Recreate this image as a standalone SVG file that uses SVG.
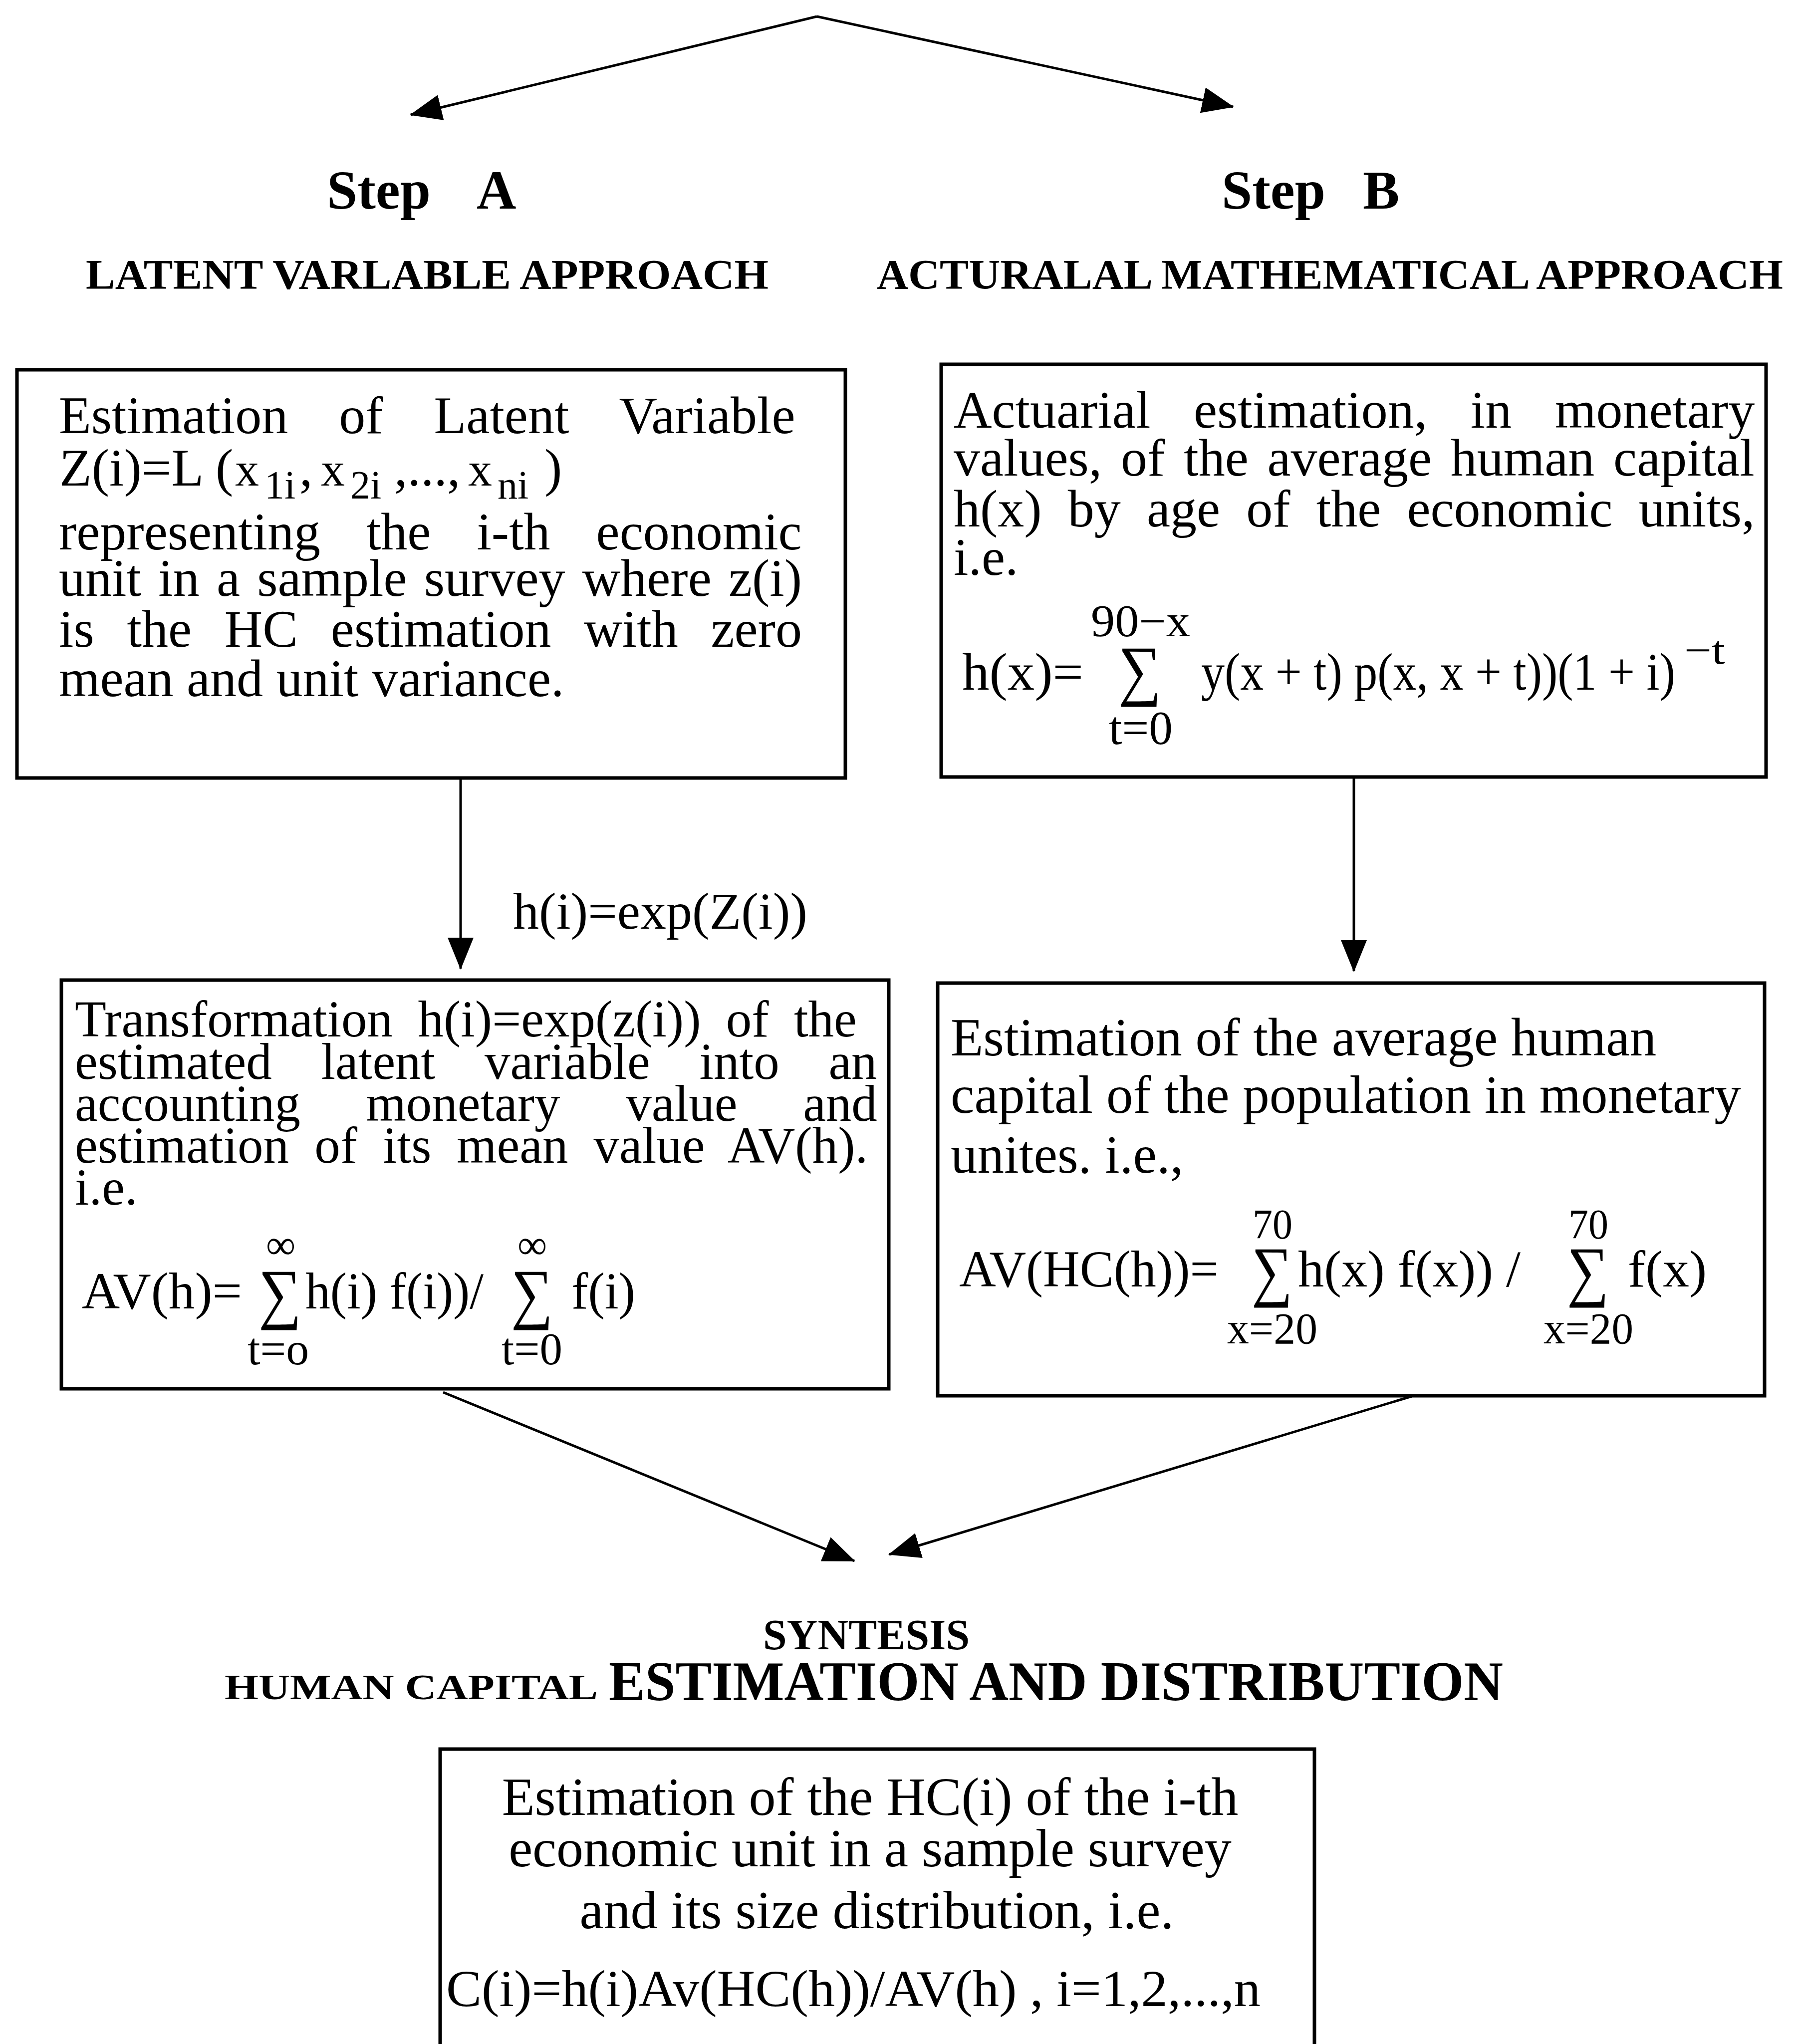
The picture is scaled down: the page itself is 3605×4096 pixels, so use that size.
<svg xmlns="http://www.w3.org/2000/svg" width="3605" height="4096" viewBox="0 0 3605 4096">
<style>
.t{font-family:"Liberation Serif","Times New Roman",serif;fill:#000}
.hb{font-weight:bold}
.box{fill:none;stroke:#000;stroke-width:7}
.cn{fill:none;stroke:#000;stroke-width:5}
.sg{font-size:135px}
</style>
<defs>
<marker id="ah" markerUnits="userSpaceOnUse" viewBox="0 0 64 52" markerWidth="64" markerHeight="52" refX="62" refY="26" orient="auto">
<path d="M0,0 L64,26 L0,52 Z" fill="#000"/>
</marker>
</defs>
<rect width="3605" height="4096" fill="#fff"/>

<g id="connectors">
<line class="cn" x1="1637" y1="33" x2="823" y2="230" stroke-width="7" marker-end="url(#ah)"/>
<line class="cn" x1="1637" y1="33" x2="2471" y2="214" stroke-width="7" marker-end="url(#ah)"/>
<line class="cn" x1="923" y1="1559" x2="923" y2="1941" marker-end="url(#ah)"/>
<line class="cn" x1="2713" y1="1557" x2="2713" y2="1946" marker-end="url(#ah)"/>
<line class="cn" x1="888" y1="2790" x2="1712" y2="3128" marker-end="url(#ah)"/>
<line class="cn" x1="2829" y1="2798" x2="1782" y2="3115" marker-end="url(#ah)"/>
<text class="t" x="1028" y="1861" font-size="104" textLength="590" lengthAdjust="spacingAndGlyphs">h(i)=exp(Z(i))</text>
</g>

<g id="headers">
<text class="t hb" x="655" y="418" font-size="110">Step</text>
<text class="t hb" x="955" y="418" font-size="110">A</text>
<text class="t hb" x="2448" y="418" font-size="110">Step</text>
<text class="t hb" x="2731" y="418" font-size="110">B</text>
<text class="t hb" x="172" y="579" font-size="84" textLength="1368" lengthAdjust="spacingAndGlyphs">LATENT VARLABLE APPROACH</text>
<text class="t hb" x="1757" y="579" font-size="84" textLength="1816" lengthAdjust="spacingAndGlyphs">ACTURALAL MATHEMATICAL APPROACH</text>
<text class="t hb" x="1529" y="3305" font-size="86" textLength="414" lengthAdjust="spacingAndGlyphs">SYNTESIS</text>
<text class="t hb" x="450" y="3405" font-size="72" textLength="748" lengthAdjust="spacingAndGlyphs">HUMAN CAPITAL</text>
<text class="t hb" x="1220" y="3407" font-size="112" textLength="1792" lengthAdjust="spacingAndGlyphs">ESTIMATION AND DISTRIBUTION</text>
</g>

<g id="box-latent">
<rect class="box" x="34" y="741" width="1660" height="818"/>
<text class="t" font-size="106">
<tspan x="118" y="868" word-spacing="75.5">Estimation of Latent Variable</tspan>
<tspan x="118" y="1101" word-spacing="65.5">representing the i-th economic</tspan>
<tspan x="118" y="1194" word-spacing="7.8">unit in a sample survey where z(i)</tspan>
<tspan x="118" y="1296" word-spacing="39.3">is the HC estimation with zero</tspan>
<tspan x="118" y="1395">mean and unit variance.</tspan>
</text>
<text class="t" font-size="106"><tspan x="119" y="973">Z(i)=L</tspan><tspan x="432" y="973">(</tspan><tspan x="471" y="973" font-size="96">x</tspan><tspan x="530" y="999" font-size="80">1i</tspan><tspan x="600" y="973">,</tspan><tspan x="643" y="973" font-size="96">x</tspan><tspan x="702" y="999" font-size="80">2i</tspan><tspan x="790" y="973">,...,</tspan><tspan x="938" y="973" font-size="96">x</tspan><tspan x="997" y="999" font-size="80">ni</tspan><tspan x="1091" y="973">)</tspan></text>
</g>

<g id="box-actuarial">
<rect class="box" x="1886" y="730" width="1653" height="827"/>
<text class="t" font-size="106">
<tspan x="1911" y="857" word-spacing="60.2">Actuarial estimation, in monetary</tspan>
<tspan x="1911" y="953" word-spacing="11.3">values, of the average human capital</tspan>
<tspan x="1911" y="1055" word-spacing="25.7">h(x) by age of the economic units,</tspan>
<tspan x="1911" y="1152">i.e.</tspan>
</text>
<text class="t" x="2186" y="1275" font-size="90" textLength="199" lengthAdjust="spacingAndGlyphs">90−x</text>
<text class="t" x="1928" y="1382" font-size="106" textLength="243" lengthAdjust="spacingAndGlyphs">h(x)=</text>
<text class="t sg" x="2241" y="1388" textLength="86" lengthAdjust="spacingAndGlyphs">∑</text>
<text class="t" x="2407" y="1382" font-size="106" textLength="950" lengthAdjust="spacingAndGlyphs">y(x + t) p(x, x + t))(1 + i)</text>
<text class="t" x="3375" y="1330" font-size="80" textLength="82" lengthAdjust="spacingAndGlyphs">−t</text>
<text class="t" x="2222" y="1491" font-size="95" textLength="128" lengthAdjust="spacingAndGlyphs">t=0</text>
</g>

<g id="box-transformation">
<rect class="box" x="123" y="1964" width="1658" height="819"/>
<text class="t" font-size="103">
<tspan x="150" y="2077" word-spacing="24.6">Transformation h(i)=exp(z(i)) of the</tspan>
<tspan x="150" y="2162" word-spacing="73">estimated latent variable into an</tspan>
<tspan x="150" y="2246" word-spacing="106">accounting monetary value and</tspan>
<tspan x="150" y="2330" word-spacing="25.3">estimation of its mean value AV(h).</tspan>
<tspan x="150" y="2414">i.e.</tspan>
</text>
<text class="t" x="164" y="2622" font-size="104" textLength="321" lengthAdjust="spacingAndGlyphs">AV(h)=</text>
<text class="t" x="533" y="2522" font-size="83">∞</text>
<text class="t sg" x="518" y="2637" textLength="86" lengthAdjust="spacingAndGlyphs">∑</text>
<text class="t" x="612" y="2622" font-size="104" textLength="357" lengthAdjust="spacingAndGlyphs">h(i) f(i))/</text>
<text class="t" x="1037" y="2522" font-size="83">∞</text>
<text class="t sg" x="1024" y="2637" textLength="84" lengthAdjust="spacingAndGlyphs">∑</text>
<text class="t" x="1145" y="2622" font-size="104" textLength="128" lengthAdjust="spacingAndGlyphs">f(i)</text>
<text class="t" x="496" y="2734" font-size="92" textLength="123" lengthAdjust="spacingAndGlyphs">t=o</text>
<text class="t" x="1005" y="2734" font-size="92" textLength="122" lengthAdjust="spacingAndGlyphs">t=0</text>
</g>

<g id="box-average">
<rect class="box" x="1879" y="1970" width="1657" height="827"/>
<text class="t" font-size="107">
<tspan x="1905" y="2115">Estimation of the average human</tspan>
<tspan x="1905" y="2230">capital of the population in monetary</tspan>
<tspan x="1905" y="2350">unites. i.e.,</tspan>
</text>
<text class="t" x="1922" y="2578" font-size="104" textLength="520" lengthAdjust="spacingAndGlyphs">AV(HC(h))=</text>
<text class="t" x="2510" y="2482" font-size="84" textLength="80" lengthAdjust="spacingAndGlyphs">70</text>
<text class="t sg" x="2508" y="2592" textLength="82" lengthAdjust="spacingAndGlyphs">∑</text>
<text class="t" x="2601" y="2578" font-size="104" textLength="446" lengthAdjust="spacingAndGlyphs">h(x) f(x)) /</text>
<text class="t" x="3143" y="2482" font-size="84" textLength="80" lengthAdjust="spacingAndGlyphs">70</text>
<text class="t sg" x="3140" y="2592" textLength="84" lengthAdjust="spacingAndGlyphs">∑</text>
<text class="t" x="3262" y="2578" font-size="104" textLength="158" lengthAdjust="spacingAndGlyphs">f(x)</text>
<text class="t" x="2459" y="2692" font-size="88" textLength="181" lengthAdjust="spacingAndGlyphs">x=20</text>
<text class="t" x="3093" y="2692" font-size="88" textLength="180" lengthAdjust="spacingAndGlyphs">x=20</text>
</g>

<g id="box-synthesis">
<path class="box" d="M882,4110 V3505 H2634 V4110"/>
<text class="t" font-size="108" text-anchor="middle">
<tspan x="1757" y="3637">Estimation of the HC(i) of the i-th</tspan>
<tspan x="1757" y="3740">economic unit in a sample survey</tspan>
<tspan x="1757" y="3864">and its size distribution, i.e.</tspan>
</text>
<text class="t" x="894" y="4020" font-size="104" textLength="1632" lengthAdjust="spacingAndGlyphs">C(i)=h(i)Av(HC(h))/AV(h) , i=1,2,...,n</text>
</g>
</svg>
